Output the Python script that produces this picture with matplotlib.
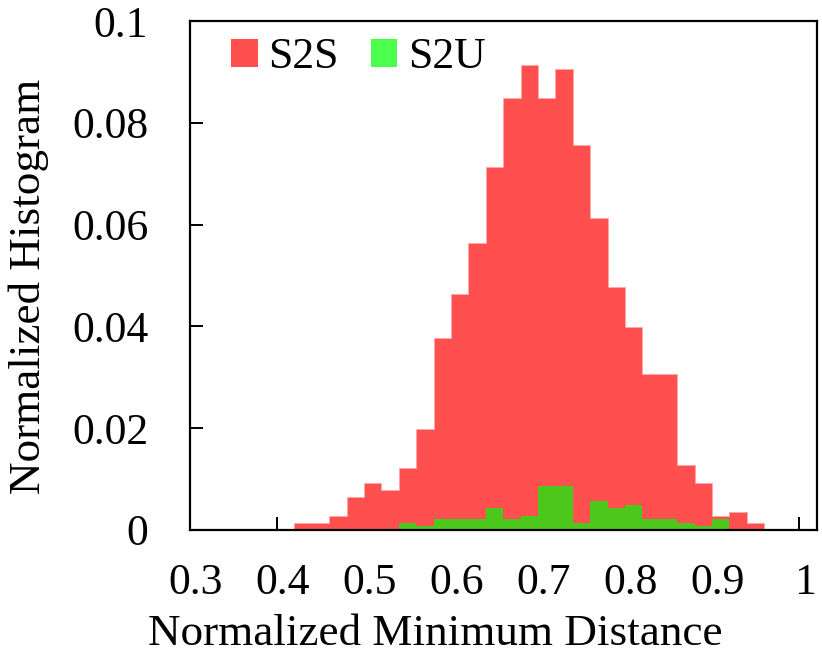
import matplotlib.pyplot as plt
from matplotlib.patches import Patch
from matplotlib.ticker import FixedLocator
from matplotlib.transforms import ScaledTranslation

plt.rcParams['font.family'] = ['Liberation Serif', 'DejaVu Serif']

# histogram bins (left edges, width 0.02)
s2s_left = [0.42, 0.44, 0.46, 0.48, 0.50, 0.52, 0.54, 0.56, 0.58, 0.60,
            0.62, 0.64, 0.66, 0.68, 0.70, 0.72, 0.74, 0.76, 0.78, 0.80,
            0.82, 0.84, 0.86, 0.88, 0.90, 0.92, 0.94]
s2s_hist = [0.0014, 0.0014, 0.0028, 0.0064, 0.0092, 0.0079, 0.0121, 0.0199,
            0.0377, 0.0463, 0.0563, 0.0713, 0.0849, 0.0913, 0.0849, 0.0905,
            0.0756, 0.0613, 0.0478, 0.0399, 0.0307, 0.0307, 0.0128, 0.0092,
            0.0028, 0.0035, 0.0014]

s2u_left = [0.54, 0.56, 0.58, 0.60, 0.62, 0.64, 0.66, 0.68, 0.70, 0.72,
            0.74, 0.76, 0.78, 0.80, 0.82, 0.84, 0.86, 0.88, 0.90]
s2u_hist = [0.0014, 0.0007, 0.0021, 0.0021, 0.0021, 0.0043, 0.0021, 0.0028,
            0.0086, 0.0086, 0.0014, 0.0057, 0.0043, 0.0050, 0.0021, 0.0021,
            0.0014, 0.0007, 0.0021]
bin_w = 0.02

x_ticks = [0.3, 0.4, 0.5, 0.6, 0.7, 0.8, 0.9, 1.0]
x_labels = ['0.3', '0.4', '0.5', '0.6', '0.7', '0.8', '0.9', '1']
y_ticks = [0, 0.02, 0.04, 0.06, 0.08, 0.1]
y_labels = ['0', '0.02', '0.04', '0.06', '0.08', '0.1']

red = '#ff4f4f'
green_bar = '#4cc81c'
green_leg = '#4dff4d'

fig = plt.figure(figsize=(8.22, 6.59), dpi=100)
ax = fig.add_axes([0.2311, 0.1958, 0.7628, 0.7722])

s2s_edges = s2s_left + [s2s_left[-1] + bin_w]
s2u_edges = s2u_left + [s2u_left[-1] + bin_w]
ax.stairs(s2s_hist, s2s_edges, fill=True, facecolor=red,
          edgecolor='#ffa8a8', linewidth=0.7, zorder=2)
ax.stairs(s2u_hist, s2u_edges, fill=True, facecolor=green_bar,
          edgecolor='none', linewidth=0, zorder=3)

ax.set_xlim(0.3, 1.0207)
ax.set_ylim(0, 0.1)
ax.xaxis.set_major_locator(FixedLocator(x_ticks))
ax.set_xticklabels(x_labels)
ax.yaxis.set_major_locator(FixedLocator(y_ticks))
ax.set_yticklabels(y_labels)
ax.tick_params(direction='in', length=9.5, width=1.4, labelsize=31.5,
               top=False, right=False)
ax.tick_params(axis='x', pad=24)
ax.tick_params(axis='y', pad=30)
shift = ScaledTranslation(6 / 100, 0, fig.dpi_scale_trans)
for lab in ax.get_xticklabels():
    lab.set_transform(lab.get_transform() + shift)
for sp in ax.spines.values():
    sp.set_linewidth(1.6)
    sp.set_zorder(5)

ax.set_xlabel('Normalized Minimum Distance', fontsize=32.5)
ax.set_ylabel('Normalized Histogram', fontsize=32.5)
ax.xaxis.set_label_coords(0.391, -0.165)
ax.yaxis.set_label_coords(-0.225, 0.478)

handles = [Patch(facecolor=red, edgecolor='none'),
           Patch(facecolor=green_leg, edgecolor='none')]
ax.legend(handles, ['S2S', 'S2U'], ncol=2, loc='upper left',
          bbox_to_anchor=(0.024, 1.02), frameon=False, fontsize=31.5,
          handlelength=0.6, handleheight=0.6, handletextpad=0.25,
          columnspacing=0.73, borderaxespad=0.2)

fig.savefig('out.png', dpi=100)
